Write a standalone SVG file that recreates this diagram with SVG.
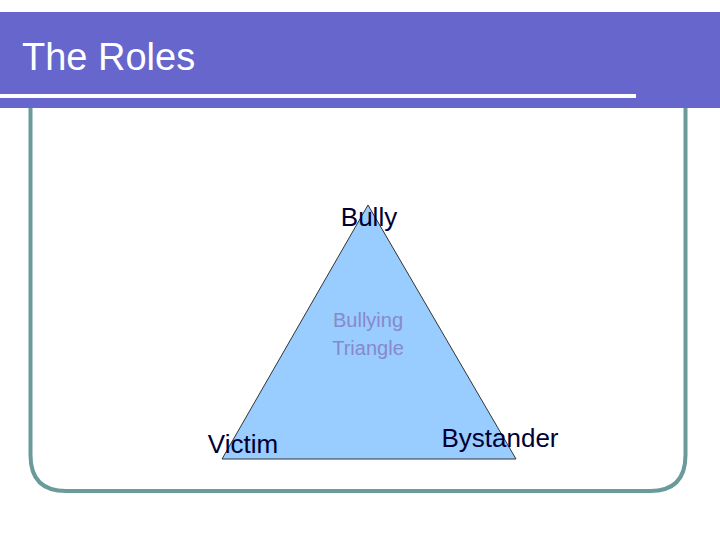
<svg xmlns="http://www.w3.org/2000/svg" width="720" height="540" viewBox="0 0 720 540">
<style>
.t{font-family:"Liberation Sans",Arial,sans-serif}
</style>
<rect width="720" height="540" fill="#fff"/>
<path d="M30.5 100 V455 Q30.5 491 66 491 H650 Q685.5 491 685.5 455 V100" fill="none" stroke="#6A9A9A" stroke-width="4"/>
<g id="header">
<rect x="0" y="12" width="720" height="96" fill="#6666CC"/>
<rect x="0" y="94" width="636" height="4" fill="#fff"/>
<text class="t" x="22" y="70" font-size="38" fill="#fff">The Roles</text>
</g>
<g id="triangle">
<polygon points="368,205 222,459 516,459" fill="#99CCFF" stroke="#333" stroke-width="1"/>
<text class="t" x="368" y="327" font-size="20" fill="#8888CC" text-anchor="middle">Bullying</text>
<text class="t" x="368" y="355" font-size="20" fill="#8888CC" text-anchor="middle">Triangle</text>
</g>
<g id="bully"><text class="t" x="369" y="226" font-size="26" fill="#000033" text-anchor="middle">Bully</text></g>
<g id="victim"><text class="t" x="243" y="453" font-size="26" fill="#000033" text-anchor="middle">Victim</text></g>
<g id="bystander"><text class="t" x="500" y="447" font-size="26" fill="#000033" text-anchor="middle">Bystander</text></g>
<g id="connectors"/>
</svg>
